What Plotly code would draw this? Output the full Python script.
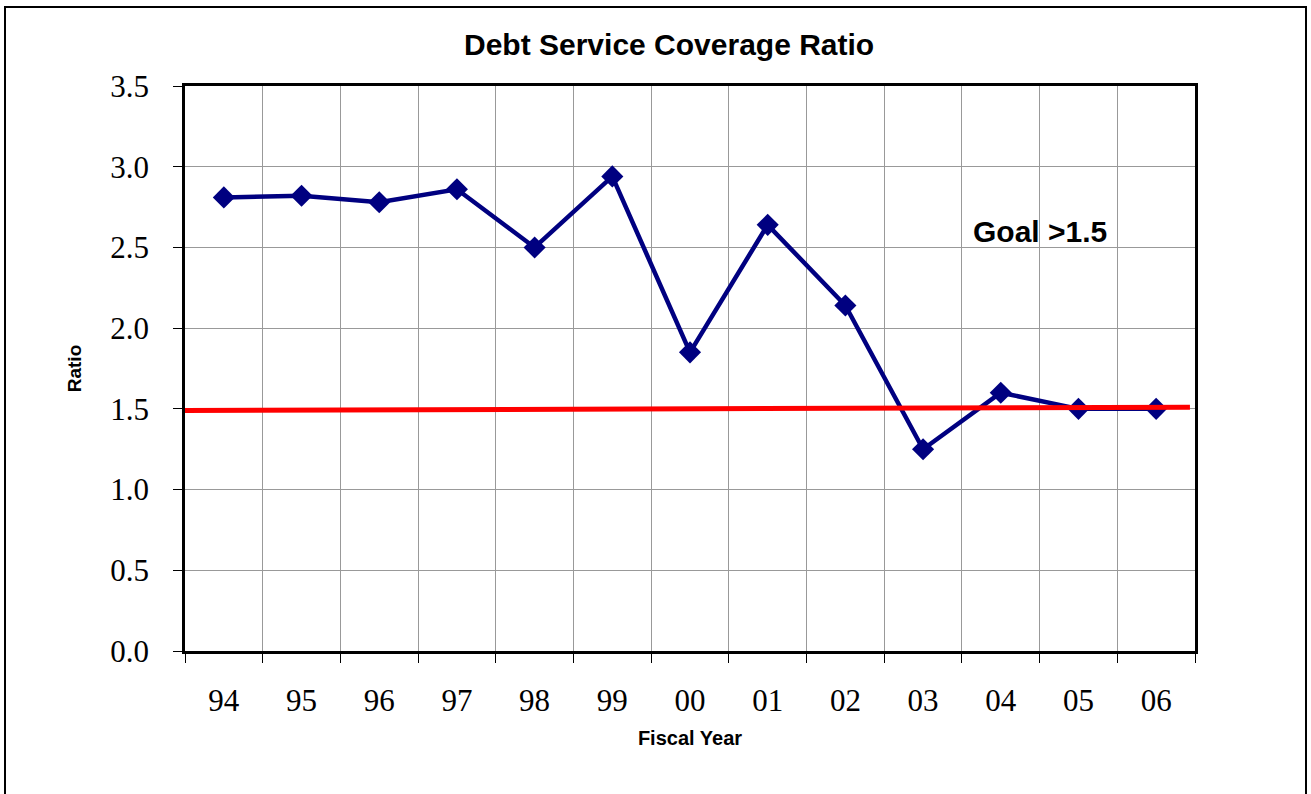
import plotly.graph_objects as go

# data
years = ["94", "95", "96", "97", "98", "99", "00", "01", "02", "03", "04", "05", "06"]
ratio = [2.81, 2.82, 2.78, 2.86, 2.50, 2.94, 1.85, 2.64, 2.14, 1.25, 1.60, 1.50, 1.50]
goal_start = 1.49
goal_end = 1.51
y_ticks = [0.0, 0.5, 1.0, 1.5, 2.0, 2.5, 3.0, 3.5]

W, H = 1311, 794
L, R, T, B = 185, 116, 86, 143
pw, ph = W - L - R, H - T - B

fig = go.Figure()

fig.add_trace(
    go.Scatter(
        x=years,
        y=ratio,
        mode="lines+markers",
        line=dict(color="#000080", width=4.5),
        marker=dict(symbol="diamond", size=17, color="#000080"),
        showlegend=False,
        hoverinfo="x+y",
    )
)

# goal line
fig.add_shape(
    type="line",
    xref="x domain",
    yref="y",
    x0=0,
    x1=0.995,
    y0=goal_start,
    y1=goal_end,
    line=dict(color="#ff0000", width=5),
    layer="above",
)

# outer chart border
fig.add_shape(
    type="rect",
    xref="paper",
    yref="paper",
    x0=(5 - L) / pw,
    x1=(1306 - L) / pw,
    y0=(H - B - 830) / ph,
    y1=(H - B - 7) / ph,
    line=dict(color="black", width=2),
    layer="below",
)

fig.add_annotation(
    text="<b>Debt Service Coverage Ratio</b>",
    xref="paper",
    yref="paper",
    x=(669 - L) / pw,
    y=(H - B - 45) / ph,
    xanchor="center",
    yanchor="middle",
    showarrow=False,
    font=dict(family="Liberation Sans, Arial", size=30, color="black"),
)

fig.add_annotation(
    text="<b>Goal &gt;1.5</b>",
    x=10.5,
    y=2.6,
    showarrow=False,
    font=dict(family="Liberation Sans, Arial", size=30, color="black"),
)

fig.update_xaxes(
    type="category",
    tickson="boundaries",
    ticks="outside",
    ticklen=9,
    tickcolor="black",
    showgrid=True,
    gridcolor="#999999",
    gridwidth=1,
    showline=True,
    linecolor="black",
    linewidth=2.5,
    mirror=True,
    range=[-0.5, 12.5],
    tickfont=dict(family="Liberation Serif, Times New Roman", size=31, color="black"),
    title=dict(
        text="<b>Fiscal Year</b>",
        font=dict(family="Liberation Sans, Arial", size=20, color="black"),
        standoff=15,
    ),
    ticklabelstandoff=20,
)

fig.update_yaxes(
    range=[0, 3.5],
    tickvals=y_ticks,
    ticktext=[f"{v:.1f}" for v in y_ticks],
    ticks="outside",
    ticklen=9,
    tickcolor="black",
    showgrid=True,
    gridcolor="#999999",
    gridwidth=1,
    showline=True,
    linecolor="black",
    linewidth=2.5,
    mirror=True,
    zeroline=False,
    tickfont=dict(family="Liberation Serif, Times New Roman", size=31, color="black"),
    ticklabelstandoff=18,
    title=dict(
        text="<b>Ratio</b>",
        font=dict(family="Liberation Sans, Arial", size=19, color="black"),
        standoff=24,
    ),
)

fig.update_layout(
    width=W,
    height=H,
    margin=dict(l=L, r=R, t=T, b=B, autoexpand=False),
    paper_bgcolor="white",
    plot_bgcolor="white",
)

fig.write_html(
    "out.html",
    config={"displayModeBar": False},
    post_script="document.body.style.margin='0';document.body.style.overflow='hidden';",
)
